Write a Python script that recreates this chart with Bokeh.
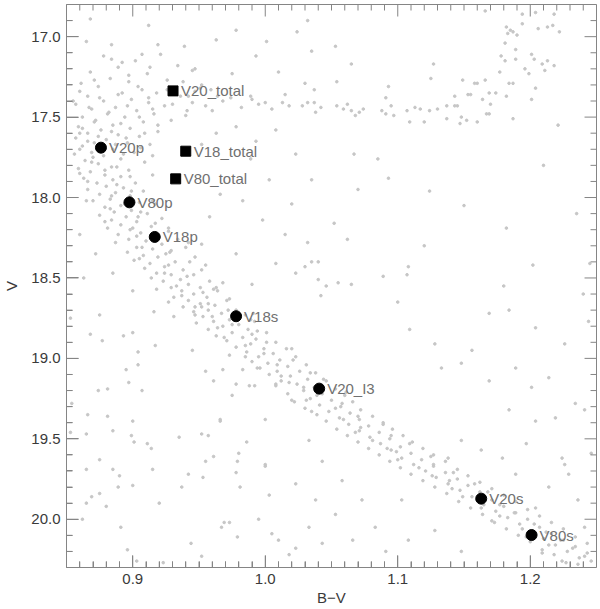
import numpy as np
from bokeh.plotting import figure
from bokeh.models import (Range1d, SingleIntervalTicker, PrintfTickFormatter,
                          ColumnDataSource, LabelSet)
from bokeh.embed import file_html
from bokeh.resources import INLINE

# ---------------- data ----------------
# labelled objects (B-V, V)
circle_names = ["V20p", "V80p", "V18p", "V18s", "V20_I3", "V20s", "V80s"]
circle_bv = [0.876, 0.8975, 0.9166, 0.978, 1.0407, 1.163, 1.201]
circle_v = [17.69, 18.03, 18.245, 18.738, 19.188, 19.872, 20.098]

square_names = ["V20_total", "V18_total", "V80_total"]
square_bv = [0.9304, 0.940, 0.9324]
square_v = [17.337, 17.712, 17.884]

x_lim = (0.85, 1.25)
y_lim = (20.3, 16.8)
x_major, x_minor = 0.1, 0.01
y_major, y_minor = 0.5, 0.1

# background stars (B-V, V)
turnoff_stars = [
    (0.878,17.12),(0.902,17.15),(0.921,17.11),(0.889,17.19),(0.934,17.18),(0.868,17.22),(0.911,17.23),(0.945,17.21),
    (0.883,17.26),(0.897,17.28),(0.926,17.27),(0.861,17.29),(0.952,17.30),(0.874,17.31),(0.907,17.33),(0.918,17.35),
    (0.889,17.36),(0.866,17.37),(0.936,17.37),(0.899,17.39),(0.878,17.40),(0.912,17.41),(0.857,17.42),(0.924,17.43),
    (0.887,17.44),(0.869,17.45),(0.903,17.46),(0.941,17.46),(0.881,17.48),(0.916,17.48),(0.862,17.50),(0.894,17.50),
    (0.872,17.52),(0.908,17.53),(0.929,17.52),(0.885,17.55),(0.859,17.56),(0.898,17.57),(0.876,17.58),(0.919,17.59),
    (0.866,17.60),(0.889,17.61),(0.905,17.62),(0.857,17.63),(0.880,17.64),(0.871,17.66),(0.896,17.66),(0.913,17.67),
    (0.862,17.68),(0.885,17.70),(0.869,17.72),(0.901,17.72),(0.856,17.73),(0.878,17.74),(0.891,17.76),(0.864,17.77),
    (0.884,17.14),(0.913,17.19),(0.897,17.24),(0.871,17.27),(0.938,17.28),(0.904,17.31),(0.926,17.33),(0.860,17.34),
    (0.892,17.35),(0.947,17.34),(0.912,17.38),(0.875,17.38),(0.930,17.42),(0.896,17.43),(0.867,17.44),(0.915,17.45),
    (0.882,17.47),(0.940,17.49),(0.905,17.50),(0.871,17.53),(0.891,17.54),(0.919,17.55),(0.862,17.57),(0.884,17.59),
    (0.909,17.60),(0.874,17.62),(0.895,17.63),(0.866,17.65),(0.887,17.67),(0.906,17.69),(0.860,17.70),(0.878,17.71),
    (0.893,17.73),(0.870,17.75),(0.915,17.74),
]

ms_stars_a = [
    (0.909,17.78),(0.874,17.79),(0.884,17.81),(0.859,17.82),(0.897,17.83),(0.868,17.84),(0.879,17.86),(0.891,17.87),
    (0.915,17.86),(0.863,17.88),(0.885,17.89),(0.873,17.91),(0.902,17.91),(0.880,17.93),(0.893,17.94),(0.866,17.95),
    (0.887,17.97),(0.908,17.96),(0.875,17.98),(0.898,17.99),(0.883,18.01),(0.870,18.02),(0.905,18.03),(0.891,18.05),
    (0.917,18.04),(0.879,18.06),(0.899,18.08),(0.886,18.09),(0.911,18.10),(0.875,18.11),(0.895,18.12),(0.922,18.13),
    (0.884,18.14),(0.903,18.15),(0.891,18.17),(0.914,18.18),(0.881,18.19),(0.898,18.20),(0.927,18.19),(0.906,18.22),
    (0.889,18.23),(0.919,18.24),(0.897,18.26),(0.934,18.26),(0.910,18.27),(0.887,18.28),(0.922,18.29),(0.903,18.31),
    (0.915,18.32),(0.940,18.31),(0.896,18.34),(0.928,18.34),(0.908,18.36),(0.919,18.37),(0.947,18.37),(0.901,18.39),
    (0.932,18.40),(0.913,18.41),(0.924,18.43),(0.955,18.42),(0.909,18.44),(0.938,18.45),(0.918,18.47),(0.929,18.48),
    (0.946,18.48),(0.914,18.50),(0.936,18.51),(0.923,18.52),(0.958,18.52),(0.942,18.54),(0.929,18.56),(0.951,18.56),
    (0.918,18.57),(0.937,18.58),(0.964,18.58),(0.946,18.60),(0.931,18.62),(0.956,18.62),(0.942,18.64),(0.971,18.64),
    (0.927,18.65),(0.951,18.66),(0.962,18.67),(0.938,18.68),(0.957,18.70),(0.978,18.70),(0.946,18.71),(0.967,18.72),
    (0.985,18.73),(0.953,18.74),(0.973,18.76),(0.961,18.77),(0.992,18.77),(0.948,18.78),(0.980,18.79),(0.968,18.80),
    (0.957,18.82),(0.987,18.82),(0.975,18.84),(1.001,18.84),(0.963,18.86),(0.983,18.87),(0.993,18.88),(0.971,18.89),
    (1.008,18.90),(0.989,18.91),(0.978,18.93),(0.999,18.94),(1.016,18.94),(0.986,18.96),(1.006,18.97),(0.973,18.98),
    (0.995,18.99),(1.023,18.99),(1.011,19.01),(0.990,19.02),(1.002,19.03),(1.031,19.04),(1.017,19.05),(0.996,19.06),
    (1.009,19.08),(1.026,19.08),(1.038,19.09),(1.003,19.10),(1.019,19.11),(1.032,19.13),(1.012,19.14),(1.046,19.14),
    (1.024,19.16),(1.008,19.17),(1.037,19.18),(1.053,19.19),(1.029,19.20),(1.017,19.22),(1.043,19.22),(1.060,19.23),
    (1.034,19.25),(1.050,19.26),(1.022,19.27),(1.066,19.27),(1.041,19.29),(1.057,19.30),(1.030,19.31),(1.072,19.32),
    (1.048,19.33),(1.064,19.34),(1.039,19.35),(1.081,19.36),(1.056,19.37),(1.071,19.38),(1.046,19.39),(1.089,19.40),
    (1.063,19.41),(1.078,19.42),(1.054,19.44),(1.096,19.44),(1.071,19.45),(1.086,19.46),(1.062,19.48),(1.104,19.48),
    (1.079,19.49),(1.094,19.50),(1.070,19.52),(1.111,19.52),(1.087,19.53),(1.102,19.55),(1.078,19.56),(1.119,19.56),
    (1.095,19.57),(1.110,19.59),(1.086,19.60),(1.127,19.60),(1.103,19.62),(1.118,19.63),(1.094,19.64),(1.136,19.64),
    (1.112,19.66),(1.127,19.67),(1.102,19.68),(1.145,19.69),(1.121,19.70),(1.136,19.71),(1.110,19.72),(1.153,19.73),
    (1.129,19.74),(1.145,19.75),(1.119,19.76),(1.162,19.77),(1.138,19.78),(1.153,19.79),(1.128,19.80),(1.171,19.81),
    (1.147,19.82),(1.162,19.83),(1.137,19.84),(1.180,19.85),(1.156,19.86),(1.171,19.88),(1.146,19.89),(1.189,19.89),
    (1.165,19.91),(1.180,19.92),(1.155,19.93),(1.198,19.94),(1.174,19.95),(1.189,19.96),(1.164,19.97),(1.207,19.98),
    (1.183,19.99),(1.198,20.00),(1.173,20.02),(1.216,20.02),(1.192,20.03),(1.207,20.05),(1.182,20.06),(1.225,20.06),
    (1.201,20.08),(1.216,20.09),(1.191,20.10),(1.234,20.11),(1.210,20.12),(1.225,20.13),(1.200,20.14),(1.243,20.15),
    (1.219,20.16),(1.234,20.17),(1.209,20.19),(1.228,20.20),(1.243,20.21),(1.218,20.22),(1.237,20.24),(1.246,20.26),
    (1.227,20.27),
]

ms_stars_b = [
    (0.869,17.78),(0.888,17.81),(0.879,17.83),(0.898,17.87),(0.866,17.90),(0.888,17.92),(0.899,17.96),(0.884,17.99),
    (0.915,18.02),(0.894,18.04),(0.883,18.07),(0.906,18.09),(0.904,18.12),(0.879,18.15),(0.917,18.16),(0.900,18.19),
    (0.927,18.21),(0.903,18.24),(0.916,18.26),(0.942,18.28),(0.907,18.31),(0.929,18.33),(0.925,18.35),(0.905,18.38),
    (0.943,18.40),(0.927,18.42),(0.952,18.45),(0.924,18.47),(0.941,18.49),(0.968,18.53),(0.933,18.55),(0.961,18.57),
    (0.953,18.59),(0.937,18.61),(0.973,18.63),(0.957,18.66),(0.947,18.68),(0.972,18.70),(0.991,18.72),(0.960,18.74),
    (0.989,18.76),(0.975,18.79),(0.964,18.81),(0.994,18.83),(0.990,18.85),(0.969,18.87),(1.001,18.90),(0.985,18.92),
    (1.020,18.94),(0.999,18.97),(0.985,18.99),(1.021,19.01),(1.009,19.04),(0.994,19.06),(1.034,19.09),(1.012,19.11),
    (1.044,19.13),(1.018,19.15),(1.029,19.18),(1.061,19.21),(1.039,19.23),(1.031,19.26),(1.058,19.28),(1.053,19.31),
    (1.035,19.33),(1.070,19.36),(1.059,19.38),(1.089,19.41),(1.072,19.43),(1.068,19.46),(1.095,19.48),(1.081,19.51),
    (1.109,19.53),(1.092,19.56),(1.099,19.58),(1.125,19.61),(1.100,19.63),(1.127,19.66),(1.116,19.68),(1.142,19.71),
    (1.126,19.73),(1.139,19.76),(1.158,19.78),(1.141,19.81),(1.168,19.83),(1.149,19.86),(1.160,19.88),(1.177,19.91),
    (1.163,19.93),(1.188,19.96),(1.177,19.98),(1.171,20.01),(1.203,20.03),(1.194,20.06),(1.212,20.08),(1.197,20.11),
    (1.223,20.13),(1.214,20.16),(1.232,20.18),(1.209,20.21),(1.241,20.23),(1.224,20.26),(1.236,20.28),
]

subgiant_stars = [
    (0.945,17.41),(0.955,17.43),(0.968,17.40),(0.982,17.44),(0.995,17.42),(1.005,17.45),(1.018,17.43),(0.960,17.46),
    (0.990,17.39),(0.964,17.37),(0.974,17.38),(0.989,17.37),(1.000,17.41),(1.015,17.36),(1.013,17.41),(0.959,17.33),
    (0.951,17.32),(0.942,17.37),
    (1.028,17.43),(1.032,17.41),(1.037,17.41),(1.038,17.47),(1.042,17.44),(1.054,17.43),(1.059,17.45),(1.062,17.42),
    (1.065,17.46),(1.068,17.49),(1.071,17.47),(1.074,17.45),(1.088,17.46),(1.091,17.48),(1.095,17.43),(1.097,17.49),
    (1.107,17.46),(1.109,17.53),(1.113,17.44),(1.117,17.45),(1.120,17.53),(1.124,17.46),(1.130,17.45),(1.137,17.43),
    (1.137,17.51),(1.143,17.43),(1.145,17.43),(1.147,17.54),(1.148,17.50),(1.152,17.52),(1.160,17.53),(1.143,17.37),
    (1.149,17.27),(1.153,17.36),(1.155,17.36),(1.158,17.29),(1.160,17.29),(1.164,17.39),(1.166,17.27),(1.167,17.48),
    (1.169,17.48),(1.170,17.42),(1.169,17.35),(1.174,17.35),(1.182,17.37),(1.187,17.51),(1.184,17.29),(1.187,17.29),
    (1.177,17.22),(1.181,17.15),(1.178,17.12),(1.181,17.04),(1.189,17.14),(1.189,17.08),(1.196,17.20),(1.199,17.23),
    (1.201,17.11),(1.203,17.14),(1.204,17.32),(1.201,17.39),(1.209,17.17),(1.211,17.21),(1.213,17.15),(1.218,17.18),
    (1.182,16.94),(1.183,16.98),(1.185,16.96),(1.187,16.97),(1.190,16.99),(1.194,16.92),(1.194,16.86),(1.206,16.95),
    (1.213,16.94),(1.217,16.93),(1.222,16.97),(1.218,16.86),(1.204,16.85),(1.166,16.84),(1.221,17.55),
]

field_stars = [
    (0.868,16.89),(0.912,16.93),(0.865,17.03),(0.884,17.05),(0.907,17.11),(0.892,17.16),(0.919,17.05),(0.939,17.06),
    (0.963,17.02),(0.978,16.96),(0.993,17.12),(1.001,17.03),(1.024,16.97),(1.010,17.22),(0.947,17.20),(0.975,17.23),
    (1.032,16.90),(1.035,17.09),(1.053,17.06),(1.065,17.17),(1.030,17.29),(1.037,17.33),(1.054,17.28),(1.127,17.17),
    (1.125,17.26),(1.093,17.31),(1.091,17.38),
    (0.963,17.60),(0.978,17.56),(0.993,17.65),(1.008,17.58),(1.023,17.73),(0.952,17.67),(0.989,17.76),(1.003,17.89),
    (0.966,17.98),(0.983,18.02),(1.020,18.04),(0.958,18.12),(0.998,18.14),(1.015,18.23),(0.952,18.29),(0.978,18.35),
    (1.008,18.41),(1.023,18.47),(0.990,18.54),(0.963,18.56),(0.860,17.60),(0.855,17.40),(0.860,17.85),(0.865,18.02),
    (0.860,18.23),(0.872,18.35),(0.885,18.47),(0.863,18.50),(0.900,18.58),
    (1.067,17.73),(1.085,17.76),(1.035,17.89),(1.093,17.88),(1.124,17.96),(1.182,18.19),(1.052,18.16),(1.062,18.26),
    (1.032,18.28),(1.030,18.43),(1.035,18.40),(1.040,18.40),(1.108,18.43),(1.107,18.48),(1.089,18.49),(1.040,18.51),
    (1.046,18.55),(1.055,18.53),(1.065,18.54),(1.042,18.61),(1.202,18.42),(1.245,18.41),(1.070,17.95),(1.150,18.05),
    (1.210,17.80),(1.235,18.10),(1.120,18.30),(1.180,18.55),(1.100,18.65),(1.240,18.60),
    (0.875,18.73),(0.853,18.75),(0.868,18.85),(0.877,18.89),(0.893,18.86),(0.900,18.84),(0.904,18.96),(0.917,18.92),
    (0.931,18.74),(0.947,18.73),(0.952,18.68),(0.916,18.71),(0.895,19.07),(0.904,19.04),(0.945,18.95),(0.955,19.08),
    (0.961,19.14),(0.968,19.07),(0.983,19.07),(0.966,19.38),
    (0.874,19.20),(0.881,19.19),(0.897,19.15),(0.907,19.20),(0.854,19.28),(0.866,19.35),(0.881,19.36),(0.900,19.39),
    (0.853,19.46),(0.865,19.47),(0.885,19.45),(0.899,19.48),(0.901,19.52),(0.911,19.53),(0.914,19.56),(0.935,19.49),
    (0.952,19.47),(0.957,19.48),(0.966,19.39),(0.978,19.16),(0.988,19.17),(0.992,19.17),(0.975,19.23),(1.000,19.38),
    (0.875,19.63),(0.865,19.69),(0.885,19.69),(0.890,19.73),(0.889,19.80),(0.900,19.79),(0.915,19.69),(0.942,19.72),
    (0.937,19.80),(0.955,19.64),(0.961,19.61),(0.953,19.74),(0.980,19.59),(0.979,19.64),(0.978,19.71),(0.981,19.80),
    (0.986,19.52),(1.000,19.67),(0.869,19.86),(0.875,19.84),(0.865,19.90),(0.880,19.92),(0.862,20.00),(0.920,19.90),
    (0.891,20.05),(0.896,20.19),(0.944,20.15),(0.952,20.23),(0.903,20.26),(0.967,20.05),(0.969,20.02),(0.973,20.02),
    (0.979,20.11),(0.995,20.00),(0.923,20.27),
    (1.008,19.16),(1.020,19.26),(1.000,19.66),(1.003,19.85),(1.023,19.78),(1.023,20.18),(1.010,20.13),(1.005,20.09),
    (1.018,20.22),
    (1.109,18.82),(1.128,18.91),(1.156,18.95),(1.169,18.72),(1.184,18.70),(1.204,18.81),(1.226,18.91),(1.244,18.77),
    (1.133,19.06),(1.148,19.03),(1.169,19.14),(1.189,19.06),(1.201,19.18),(1.214,19.12),(1.234,19.28),(1.184,19.32),
    (1.204,19.39),(1.219,19.37),(1.241,19.32),(1.197,19.53),(1.224,19.62),(1.229,19.72),(1.226,19.66),(1.246,19.59),
    (1.179,19.62),(1.189,19.72),(1.163,19.57),(1.148,19.51),(1.138,19.62),(1.214,19.80),(1.204,19.93),(1.236,19.88),
    (1.241,20.05),
    (1.033,19.51),(1.043,19.64),(1.058,19.76),(1.073,19.88),(1.038,19.88),(1.053,19.97),(1.083,20.05),(1.103,19.88),
    (1.108,20.13),(1.066,20.13),(1.043,20.15),(1.128,20.07),(1.148,20.20),(1.091,20.20),(1.033,20.05),
]

# ---------------- figure ----------------
TEXT = "#3a3a3a"
AXIS = "#858585"
STAR = "#c6c6c6"
W, H = 600, 608
B_LEFT, B_RIGHT, B_TOP, B_BOTTOM = 64, 4, 4, 41

p = figure(width=W, height=H,
           x_range=Range1d(*x_lim), y_range=Range1d(*y_lim),
           output_backend="svg", toolbar_location=None,
           x_axis_label="B\u2212V", y_axis_label="V",
           min_border_left=B_LEFT, min_border_right=B_RIGHT,
           min_border_top=B_TOP, min_border_bottom=B_BOTTOM)
p.outline_line_color = AXIS
p.xgrid.visible = False
p.ygrid.visible = False

fmt = PrintfTickFormatter(format="%.1f")
p.xaxis.ticker = SingleIntervalTicker(interval=x_major, num_minor_ticks=10)
p.yaxis.ticker = SingleIntervalTicker(interval=y_major, num_minor_ticks=5)
for ax in list(p.xaxis) + list(p.yaxis):
    ax.formatter = fmt
    ax.axis_line_color = None
    ax.major_tick_line_color = AXIS
    ax.minor_tick_line_color = AXIS
    ax.major_tick_out = 0
    ax.minor_tick_out = 0
    ax.major_tick_in = 12
    ax.minor_tick_in = 6
    ax.major_label_text_color = TEXT
    ax.major_label_text_font_size = "15px"
    ax.axis_label_text_color = TEXT
    ax.axis_label_text_font_style = "normal"
    ax.axis_label_text_font_size = "15px"
for ax in p.xaxis:
    ax.major_label_standoff = 6
    ax.axis_label_standoff = 2
for ax in p.yaxis:
    ax.major_label_standoff = 6
    ax.axis_label_standoff = 8

# background stars (stroked in their own colour, no transparent line state)
all_bg = turnoff_stars + ms_stars_a + ms_stars_b + subgiant_stars + field_stars
bg = ColumnDataSource(dict(bv=[s[0] for s in all_bg], v=[s[1] for s in all_bg]))
p.scatter("bv", "v", source=bg, marker="circle", size=2.6,
          fill_color=STAR, line_color=STAR, line_width=1)

# labelled objects
csrc = ColumnDataSource(dict(bv=circle_bv, v=circle_v, name=circle_names))
ssrc = ColumnDataSource(dict(bv=square_bv, v=square_v, name=square_names))
p.scatter("bv", "v", source=csrc, marker="circle", size=11, fill_color="black", line_color="black")
p.scatter("bv", "v", source=ssrc, marker="square", size=10, fill_color="black", line_color="black")
for src in (csrc, ssrc):
    p.add_layout(LabelSet(x="bv", y="v", text="name", source=src, x_offset=8, y_offset=0,
                          text_font_size="15px", text_color="#707070",
                          text_baseline="middle", text_align="left"))

# inward ticks on all four edges, drawn as segments whose length is
# converted from screen pixels to data units using the frame size
frame_w = W - B_LEFT - B_RIGHT
frame_h = H - B_TOP - B_BOTTOM
px_x = (x_lim[1] - x_lim[0]) / frame_w
px_y = (y_lim[0] - y_lim[1]) / frame_h
x_all = np.round(np.arange(x_lim[0], x_lim[1] + 1e-9, x_minor), 3)
is_xmaj = np.isclose(np.round(x_all / x_major) * x_major, x_all)
y_all = np.round(np.arange(y_lim[1], y_lim[0] + 1e-9, y_minor), 3)
is_ymaj = np.isclose(np.round(y_all / y_major) * y_major, y_all)
xl = np.where(is_xmaj, 12, 6) * px_y
yl = np.where(is_ymaj, 12, 6) * px_x
p.segment(x0=x_all, y0=np.full(len(x_all), y_lim[1]), x1=x_all, y1=y_lim[1] + xl,
          line_color=AXIS, line_width=1)
p.segment(x0=x_all, y0=np.full(len(x_all), y_lim[0]), x1=x_all, y1=y_lim[0] - xl,
          line_color=AXIS, line_width=1)
p.segment(x0=np.full(len(y_all), x_lim[1]), y0=y_all, x1=x_lim[1] - yl, y1=y_all,
          line_color=AXIS, line_width=1)
p.segment(x0=np.full(len(y_all), x_lim[0]), y0=y_all, x1=x_lim[0] + yl, y1=y_all,
          line_color=AXIS, line_width=1)

open("out.html", "w").write(file_html(p, INLINE))
